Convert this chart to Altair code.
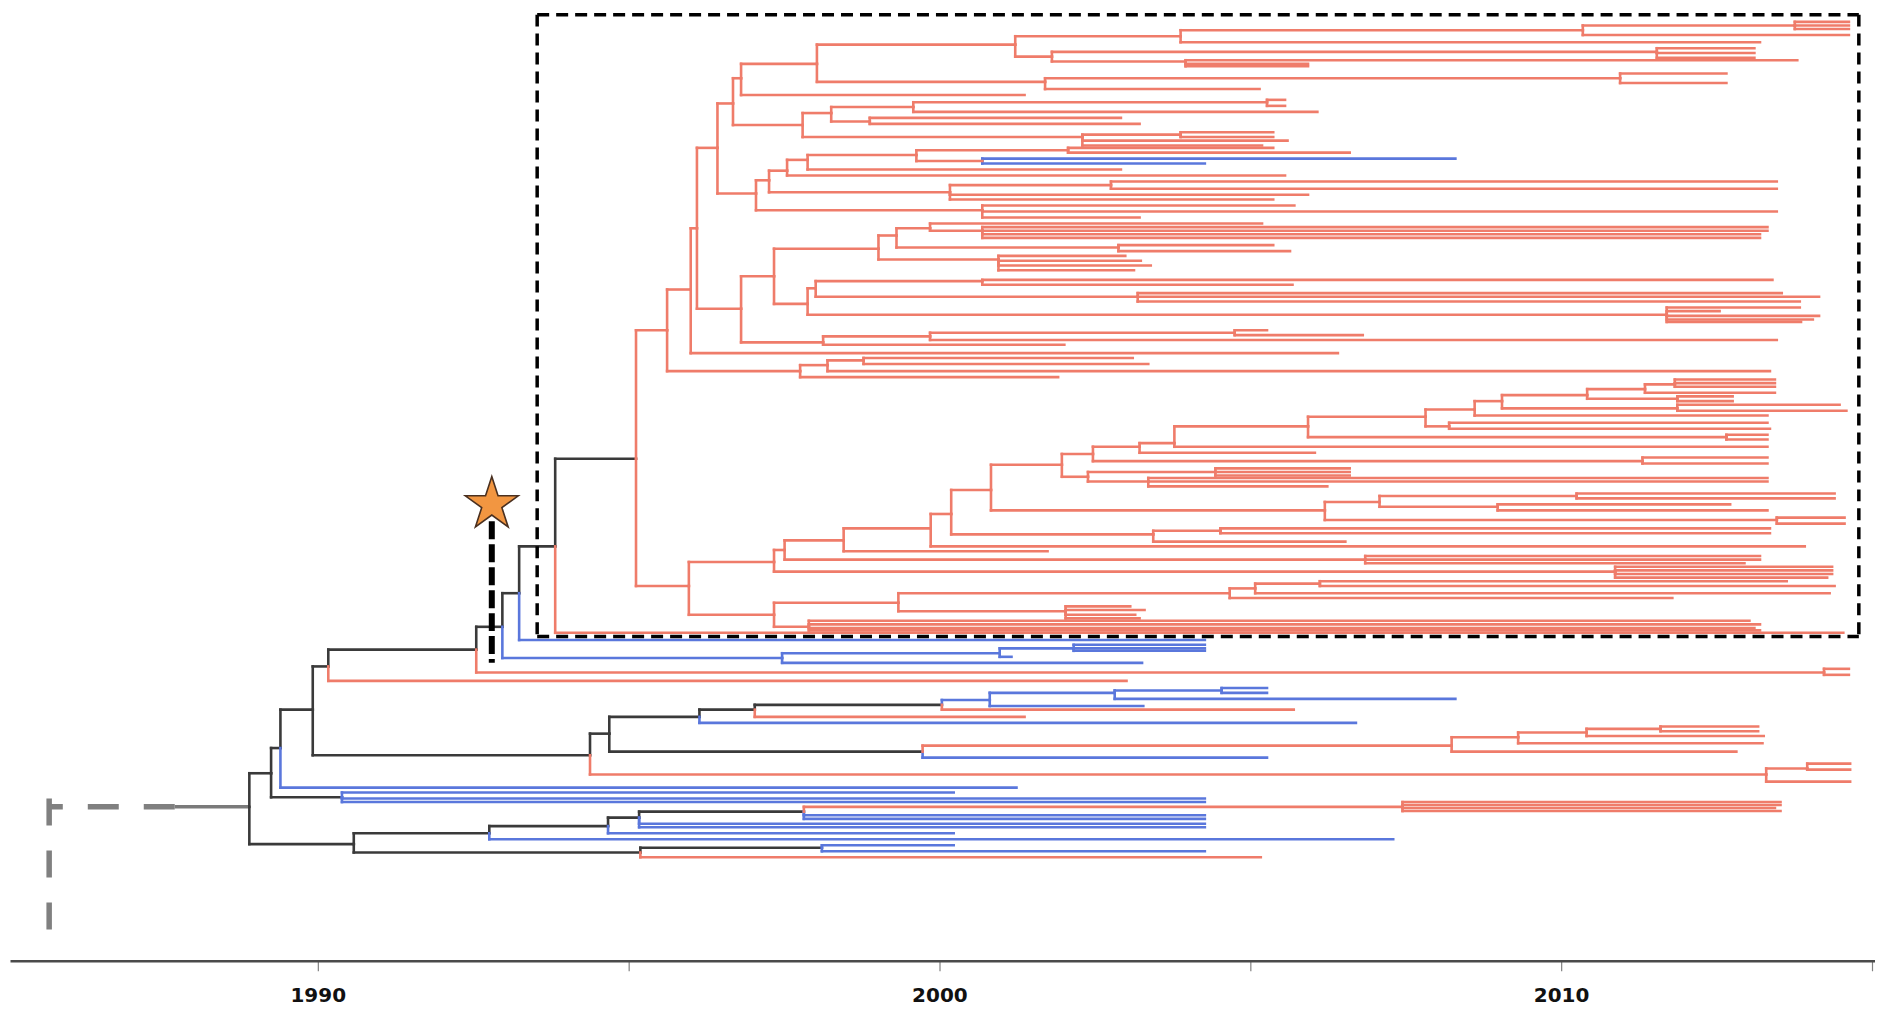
import altair as alt
import pandas as pd

# Each branch: (parent year, tip/node year, position, parent position, state)
# state: r = red, b = blue, k = black (ancestral)
backbone = [
    (1988.90, 1989.25, 644, 672, 'k'), (1988.90, 1990.58, 703, 672, 'k'),
    (1989.25, 1989.40, 623, 644, 'k'), (1989.25, 1990.39, 664, 644, 'k'),
    (1990.39, 2000.23, 660, 664, 'b'), (1990.39, 2004.27, 665, 664, 'b'),
    (1990.39, 2004.27, 668, 664, 'b'),
    (1989.40, 1989.92, 591, 623, 'k'), (1989.40, 2001.24, 656, 623, 'b'),
    (1989.92, 1990.17, 555, 591, 'k'), (1989.92, 1994.38, 629, 591, 'k'),
    (1990.17, 1992.55, 541, 555, 'k'), (1990.17, 2003.01, 567, 555, 'r'),
    (1992.55, 1992.97, 522, 541, 'k'), (1992.55, 2014.23, 560, 541, 'r'),
    (2014.23, 2014.63, 557, 560, 'r'), (2014.23, 2014.63, 562, 560, 'r'),
    (1992.97, 1993.24, 494, 522, 'k'), (1992.97, 1997.47, 548, 522, 'b'),
    (1997.47, 2000.97, 544, 548, 'b'), (1997.47, 2003.26, 552, 548, 'b'),
    (2000.97, 2002.16, 540, 544, 'b'), (2000.97, 2001.16, 547, 544, 'b'),
    (2002.16, 2004.27, 537, 540, 'b'), (2002.16, 2004.27, 540, 540, 'b'),
    (2002.16, 2004.27, 542, 540, 'b'),
    (1993.24, 1993.82, 455, 494, 'k'), (1993.24, 2004.27, 533, 494, 'b'),
    (1993.82, 1995.12, 382, 455, 'k'), (1993.82, 2014.54, 527, 455, 'r'),
    (1994.38, 1994.69, 611, 629, 'k'), (1994.38, 2013.30, 645, 629, 'r'),
    (2013.30, 2013.96, 640, 645, 'r'), (2013.30, 2014.65, 651, 645, 'r'),
    (2013.96, 2014.65, 636, 640, 'r'), (2013.96, 2014.65, 641, 640, 'r'),
    (1994.69, 1996.14, 597, 611, 'k'), (1994.69, 1999.73, 626, 611, 'k'),
    (1999.73, 2008.24, 621, 626, 'r'), (1999.73, 2005.27, 631, 626, 'b'),
    (2008.24, 2009.31, 614, 621, 'r'), (2008.24, 2012.82, 626, 621, 'r'),
    (2009.31, 2010.41, 610, 614, 'r'), (2009.31, 2013.24, 619, 614, 'r'),
    (2010.41, 2011.60, 607, 610, 'r'), (2010.41, 2013.26, 613, 610, 'r'),
    (2011.60, 2013.17, 605, 607, 'r'), (2011.60, 2013.17, 609, 607, 'r'),
    (1996.14, 1997.03, 591, 597, 'k'), (1996.14, 2006.70, 602, 597, 'b'),
    (1997.03, 2000.04, 587, 591, 'k'), (1997.03, 2001.37, 597, 591, 'r'),
    (2000.04, 2000.81, 583, 587, 'b'), (2000.04, 2005.70, 591, 587, 'r'),
    (2000.81, 2002.82, 577, 583, 'b'), (2000.81, 2003.28, 588, 583, 'b'),
    (2002.82, 2004.54, 575, 577, 'b'), (2002.82, 2008.30, 582, 577, 'b'),
    (2004.54, 2005.27, 573, 575, 'b'), (2004.54, 2005.27, 577, 575, 'b'),
]

lower_group = [
    (1990.58, 1992.76, 694, 703, 'k'), (1990.58, 1995.19, 710, 703, 'k'),
    (1992.76, 1994.67, 688, 694, 'k'), (1992.76, 2007.30, 699, 694, 'b'),
    (1994.67, 1995.17, 681, 688, 'k'), (1994.67, 2000.23, 694, 688, 'b'),
    (1995.17, 1997.82, 676, 681, 'k'), (1995.17, 2004.27, 686, 681, 'b'),
    (1995.17, 2004.27, 689, 681, 'b'),
    (1997.82, 2007.45, 672, 676, 'r'), (1997.82, 2004.27, 679, 676, 'b'),
    (1997.82, 2004.27, 682, 676, 'b'),
    (2007.45, 2013.53, 668, 672, 'r'), (2007.45, 2013.53, 670.5, 672, 'r'),
    (2007.45, 2013.44, 673, 672, 'r'), (2007.45, 2013.53, 675.5, 672, 'r'),
    (1995.19, 1998.11, 706, 710, 'k'), (1995.19, 2005.17, 714, 710, 'r'),
    (1998.11, 2000.23, 704, 706, 'b'), (1998.11, 2004.27, 709, 706, 'b'),
]

clade_root = [
    (1995.12, 1995.62, 275, 382, 'r'), (1995.12, 1995.97, 488, 382, 'r'),
]

clade_upper = [
    (1995.62, 1996.00, 241, 275, 'r'), (1995.62, 1997.76, 309, 275, 'r'),
    (1997.76, 1998.20, 304, 309, 'r'), (1997.76, 2001.91, 314, 309, 'r'),
    (1998.20, 1998.78, 300, 304, 'r'), (1998.20, 2013.36, 309, 304, 'r'),
    (1998.78, 2003.11, 298, 300, 'r'), (1998.78, 2003.36, 303, 300, 'r'),
    (1996.00, 1996.10, 190, 241, 'r'), (1996.00, 2006.41, 294, 241, 'r'),
    (1996.10, 1996.43, 123, 190, 'r'), (1996.10, 1996.81, 257, 190, 'r'),
    (1996.81, 1997.34, 230, 257, 'r'), (1996.81, 1998.13, 285, 257, 'r'),
    (1998.13, 1999.85, 280, 285, 'r'), (1998.13, 2002.01, 287, 285, 'r'),
    (1999.85, 2004.75, 277, 280, 'r'), (1999.85, 2013.47, 283, 280, 'r'),
    (2004.75, 2005.27, 275, 277, 'r'), (2004.75, 2006.81, 279, 277, 'r'),
    (1997.34, 1999.02, 207, 230, 'r'), (1997.34, 1997.88, 253, 230, 'r'),
    (1997.88, 1998.01, 240, 253, 'r'), (1997.88, 2011.70, 262, 253, 'r'),
    (1998.01, 2000.69, 234, 240, 'r'), (1998.01, 2003.19, 247, 240, 'r'),
    (2000.69, 2013.40, 233, 234, 'r'), (2000.69, 2005.68, 237, 234, 'r'),
    (2003.19, 2013.55, 244, 247, 'r'), (2003.19, 2014.15, 247, 247, 'r'),
    (2003.19, 2013.84, 251, 247, 'r'),
    (2011.70, 2013.84, 256, 262, 'r'), (2011.70, 2012.55, 259, 262, 'r'),
    (2011.70, 2014.15, 263, 262, 'r'), (2011.70, 2014.05, 266, 262, 'r'),
    (2011.70, 2013.86, 268, 262, 'r'),
    (1999.02, 1999.31, 196, 207, 'r'), (1999.02, 2000.95, 216, 207, 'r'),
    (1999.31, 1999.85, 190, 196, 'r'), (1999.31, 2002.88, 206, 196, 'r'),
    (1999.85, 2000.69, 192, 190, 'r'), (1999.85, 2005.19, 186, 190, 'r'),
    (2000.69, 2013.32, 189, 192, 'r'), (2000.69, 2013.32, 192, 192, 'r'),
    (2000.69, 2013.20, 195, 192, 'r'), (2000.69, 2013.20, 198, 192, 'r'),
    (2002.88, 2005.37, 204, 206, 'r'), (2002.88, 2005.64, 209, 206, 'r'),
    (2000.95, 2002.99, 213, 216, 'r'), (2000.95, 2003.24, 217, 216, 'r'),
    (2000.95, 2003.40, 221, 216, 'r'), (2000.95, 2003.13, 225, 216, 'r'),
    (1996.43, 1996.68, 86, 123, 'r'), (1996.43, 1997.05, 161, 123, 'r'),
    (1996.68, 1996.81, 65, 86, 'r'), (1996.68, 1997.80, 104, 86, 'r'),
    (1996.81, 1998.03, 53, 65, 'r'), (1996.81, 2001.37, 79, 65, 'r'),
    (1998.03, 2001.22, 37, 53, 'r'), (1998.03, 2001.70, 68, 53, 'r'),
    (2001.22, 2003.88, 30, 37, 'r'), (2001.22, 2001.81, 47, 37, 'r'),
    (2003.88, 2010.35, 25, 30, 'r'), (2003.88, 2013.20, 35, 30, 'r'),
    (2010.35, 2013.76, 21, 25, 'r'), (2010.35, 2014.63, 29, 25, 'r'),
    (2013.76, 2014.63, 18, 21, 'r'), (2013.76, 2014.63, 21, 21, 'r'),
    (2013.76, 2014.63, 24, 21, 'r'),
    (2001.81, 2011.54, 43, 47, 'r'), (2001.81, 2003.96, 51, 47, 'r'),
    (2011.54, 2013.11, 40, 43, 'r'), (2011.54, 2013.11, 44, 43, 'r'),
    (2011.54, 2013.11, 48, 43, 'r'),
    (2003.96, 2013.80, 50, 51, 'r'), (2003.96, 2005.93, 53, 51, 'r'),
    (2003.96, 2005.93, 55, 51, 'r'),
    (2001.70, 2010.95, 65, 68, 'r'), (2001.70, 2005.15, 74, 68, 'r'),
    (2010.95, 2012.66, 61, 65, 'r'), (2010.95, 2012.66, 69, 65, 'r'),
    (1997.80, 1998.26, 94, 104, 'r'), (1997.80, 2002.30, 114, 104, 'r'),
    (1998.26, 1999.58, 89, 94, 'r'), (1998.26, 1998.88, 101, 94, 'r'),
    (1999.58, 2005.27, 85, 89, 'r'), (1999.58, 2006.08, 93, 89, 'r'),
    (2005.27, 2005.56, 83, 85, 'r'), (2005.27, 2005.56, 88, 85, 'r'),
    (1998.88, 2002.92, 98, 101, 'r'), (1998.88, 2003.22, 103, 101, 'r'),
    (2002.30, 2003.88, 112, 114, 'r'), (2002.30, 2005.60, 117, 114, 'r'),
    (2002.30, 2005.19, 121, 114, 'r'),
    (2003.88, 2005.37, 110, 112, 'r'), (2003.88, 2005.37, 114, 112, 'r'),
    (1997.05, 1997.26, 150, 161, 'r'), (1997.05, 2000.69, 175, 161, 'r'),
    (2000.69, 2005.71, 171, 175, 'r'), (2000.69, 2013.47, 176, 175, 'r'),
    (2000.69, 2003.22, 181, 175, 'r'),
    (1997.26, 1997.55, 142, 150, 'r'), (1997.26, 2000.17, 160, 150, 'r'),
    (2000.17, 2002.76, 154, 160, 'r'), (2000.17, 2005.93, 162, 160, 'r'),
    (2000.17, 2005.37, 166, 160, 'r'),
    (2002.76, 2013.47, 151, 154, 'r'), (2002.76, 2013.47, 157, 154, 'r'),
    (1997.55, 1997.88, 133, 142, 'r'), (1997.55, 2005.56, 146, 142, 'r'),
    (1997.88, 1999.63, 129, 133, 'r'), (1997.88, 2002.92, 141, 133, 'r'),
    (1999.63, 2002.07, 125, 129, 'r'), (1999.63, 2000.69, 134, 129, 'r'),
    (2000.69, 2008.30, 132, 134, 'b'), (2000.69, 2004.27, 136, 134, 'b'),
    (2002.07, 2006.60, 127, 125, 'r'), (2002.07, 2005.37, 123, 125, 'r'),
]

clade_lower = [
    (1995.97, 1997.34, 468, 488, 'r'), (1995.97, 1997.34, 512, 488, 'r'),
    (1997.34, 1997.51, 458, 468, 'r'), (1997.34, 2010.87, 476, 468, 'r'),
    (2010.87, 2014.36, 472, 476, 'r'), (2010.87, 2014.36, 475, 476, 'r'),
    (2010.87, 2014.36, 478, 476, 'r'), (2010.87, 2014.28, 481, 476, 'r'),
    (1997.51, 1998.46, 450, 458, 'r'), (1997.51, 2006.85, 466, 458, 'r'),
    (2006.85, 2013.20, 463, 466, 'r'), (2006.85, 2013.20, 466, 466, 'r'),
    (2006.85, 2012.95, 469, 466, 'r'),
    (1998.46, 1999.86, 440, 450, 'r'), (1998.46, 2001.74, 459, 450, 'r'),
    (1999.86, 2000.19, 428, 440, 'r'), (1999.86, 2013.92, 455, 440, 'r'),
    (2000.19, 2000.83, 408, 428, 'r'), (2000.19, 2003.44, 445, 428, 'r'),
    (2003.44, 2004.52, 442, 445, 'r'), (2003.44, 2006.53, 451, 445, 'r'),
    (2004.52, 2013.36, 440, 442, 'r'), (2004.52, 2013.36, 444, 442, 'r'),
    (2000.83, 2001.97, 387, 408, 'r'), (2000.83, 2006.20, 425, 408, 'r'),
    (2006.20, 2007.08, 418, 425, 'r'), (2006.20, 2013.47, 433, 425, 'r'),
    (2007.08, 2010.25, 413, 418, 'r'), (2007.08, 2008.98, 422, 418, 'r'),
    (2010.25, 2014.40, 411, 413, 'r'), (2010.25, 2014.40, 415, 413, 'r'),
    (2008.98, 2012.72, 420, 422, 'r'), (2008.98, 2013.32, 425, 422, 'r'),
    (2013.47, 2014.56, 431, 433, 'r'), (2013.47, 2014.56, 436, 433, 'r'),
    (2001.97, 2002.47, 378, 387, 'r'), (2001.97, 2002.39, 397, 387, 'r'),
    (2002.39, 2004.44, 393, 397, 'r'), (2002.39, 2003.36, 401, 397, 'r'),
    (2004.44, 2006.60, 390, 393, 'r'), (2004.44, 2006.60, 393, 393, 'r'),
    (2004.44, 2006.60, 396, 393, 'r'),
    (2003.36, 2013.32, 398, 401, 'r'), (2003.36, 2013.32, 401, 401, 'r'),
    (2003.36, 2006.24, 405, 401, 'r'),
    (2002.47, 2003.22, 372, 378, 'r'), (2002.47, 2011.31, 384, 378, 'r'),
    (2011.31, 2013.32, 381, 384, 'r'), (2011.31, 2013.32, 386, 384, 'r'),
    (2003.22, 2003.78, 369, 372, 'r'), (2003.22, 2006.04, 377, 372, 'r'),
    (2003.78, 2005.93, 355, 369, 'r'), (2003.78, 2013.32, 372, 369, 'r'),
    (2005.93, 2007.82, 347, 355, 'r'), (2005.93, 2012.66, 364, 355, 'r'),
    (2012.66, 2013.32, 362, 364, 'r'), (2012.66, 2013.32, 366, 364, 'r'),
    (2007.82, 2008.61, 341, 347, 'r'), (2007.82, 2008.20, 355, 347, 'r'),
    (2008.20, 2013.32, 352, 355, 'r'), (2008.20, 2013.36, 357, 355, 'r'),
    (2008.61, 2009.05, 334, 341, 'r'), (2008.61, 2013.32, 346, 341, 'r'),
    (2009.05, 2010.42, 329, 334, 'r'), (2009.05, 2011.87, 340, 334, 'r'),
    (2011.87, 2014.48, 337, 340, 'r'), (2011.87, 2014.59, 342, 340, 'r'),
    (2010.42, 2011.35, 324, 329, 'r'), (2010.42, 2011.87, 332, 329, 'r'),
    (2011.87, 2012.76, 330, 332, 'r'), (2011.87, 2012.76, 334, 332, 'r'),
    (2011.35, 2011.83, 320, 324, 'r'), (2011.35, 2013.44, 327, 324, 'r'),
    (2011.83, 2013.44, 316, 320, 'r'), (2011.83, 2013.44, 319, 320, 'r'),
    (2011.83, 2013.44, 322, 320, 'r'),
    (1997.34, 1999.34, 502, 512, 'r'), (1997.34, 1997.90, 522, 512, 'r'),
    (1999.34, 2004.67, 494, 502, 'r'), (1999.34, 2002.03, 509, 502, 'r'),
    (2004.67, 2005.08, 490, 494, 'r'), (2004.67, 2011.79, 498, 494, 'r'),
    (2005.08, 2006.12, 486, 490, 'r'), (2005.08, 2014.32, 494, 490, 'r'),
    (2006.12, 2013.63, 484, 486, 'r'), (2006.12, 2014.40, 488, 486, 'r'),
    (2002.03, 2003.07, 505, 509, 'r'), (2002.03, 2003.30, 508, 509, 'r'),
    (2002.03, 2003.15, 512, 509, 'r'), (2002.03, 2003.22, 515, 509, 'r'),
    (1997.90, 2013.03, 517, 522, 'r'), (1997.90, 2013.20, 520, 522, 'r'),
    (1997.90, 2013.11, 523, 522, 'r'), (1997.90, 2013.20, 525, 522, 'r'),
]

# root stem (grey, partly dashed) and highlighted clade box
root_years = [1985.68, 1987.70, 1988.90]
root_pos = [665, 672, 775]
box_years = [1993.53, 2014.79]
box_pos = [12, 530]
star_year = 1992.80
star_pos = [420, 434, 552]
tick_years = [1990, 1995, 2000, 2005, 2010, 2015]

# ---------- build tables ----------
rows = []
for x0, x1, y, yp, c in backbone + lower_group + clade_root + clade_upper + clade_lower:
    rows.append({"x": x0, "x2": x1, "y": y, "y2": y, "c": c})
    rows.append({"x": x0, "x2": x0, "y": yp, "y2": y, "c": c})
tree_df = pd.DataFrame(rows)
tree_df["rank"] = tree_df["c"].map({"k": 0, "b": 1, "r": 2})
tree_df = tree_df.sort_values("rank", kind="stable")

box_df = pd.DataFrame([
    {"x": box_years[0], "x2": box_years[1], "y": box_pos[0], "y2": box_pos[0]},
    {"x": box_years[0], "x2": box_years[1], "y": box_pos[1], "y2": box_pos[1]},
    {"x": box_years[0], "x2": box_years[0], "y": box_pos[0], "y2": box_pos[1]},
    {"x": box_years[1], "x2": box_years[1], "y": box_pos[0], "y2": box_pos[1]},
])
root_h = pd.DataFrame([{"x": root_years[1], "x2": root_years[0], "y": root_pos[1], "y2": root_pos[1]}])
root_v = pd.DataFrame([{"x": root_years[0], "x2": root_years[0], "y": root_pos[0], "y2": root_pos[2]}])
root_s = pd.DataFrame([{"x": root_years[1], "x2": root_years[2], "y": root_pos[1], "y2": root_pos[1]}])
star_line = pd.DataFrame([{"x": star_year, "x2": star_year, "y": star_pos[1], "y2": star_pos[2]}])
star_df = pd.DataFrame([{"x": star_year, "y": star_pos[0]}])

x_scale = alt.Scale(domain=[1985.05, 2015.05], nice=False, zero=False)
y_scale = alt.Scale(domain=[6.7, 800.2], reverse=True, nice=False, zero=False)
x_axis = alt.Axis(values=tick_years, format="d",
                  labelExpr="datum.value % 10 === 0 ? datum.label : ''",
                  title=None, grid=False, domainColor="#4a4a4a", domainWidth=2.5,
                  tickColor="#808080", tickSize=10, tickWidth=1.2,
                  labelFont="DejaVu Sans", labelFontWeight="bold", labelFontSize=20,
                  labelColor="#111111", labelPadding=15, labelFlush=False,
                  labelOverlap=False)
X = alt.X("x:Q", scale=x_scale, axis=x_axis)
Y = alt.Y("y:Q", scale=y_scale, axis=None)

tree = alt.Chart(tree_df).mark_rule(strokeWidth=2.6, strokeCap="square").encode(
    x=X, x2="x2:Q", y=Y, y2="y2:Q",
    color=alt.Color("c:N", legend=None,
                    scale=alt.Scale(domain=["r", "b", "k"],
                                    range=["#ef7c6a", "#5a77dc", "#3a3a3a"])),
)

root_dash_h = alt.Chart(root_h).mark_rule(strokeWidth=5.5, color="#808080",
                                          strokeDash=[31, 25]).encode(x=X, x2="x2:Q", y=Y, y2="y2:Q")
root_dash_v = alt.Chart(root_v).mark_rule(strokeWidth=5.5, color="#808080",
                                          strokeDash=[27, 25]).encode(x=X, x2="x2:Q", y=Y, y2="y2:Q")
root_solid = alt.Chart(root_s).mark_rule(strokeWidth=3.5, color="#7a7a7a").encode(
    x=X, x2="x2:Q", y=Y, y2="y2:Q")

box = alt.Chart(box_df).mark_rule(strokeWidth=3.5, color="#000000",
                                  strokeDash=[12, 7]).encode(x=X, x2="x2:Q", y=Y, y2="y2:Q")

star_dash = alt.Chart(star_line).mark_rule(strokeWidth=6, color="#000000",
                                           strokeDash=[18, 5]).encode(x=X, x2="x2:Q", y=Y, y2="y2:Q")

STAR = ("M0,-1L0.2245,-0.309L0.9511,-0.309L0.3633,0.118L0.5878,0.809L0,0.382"
        "L-0.5878,0.809L-0.3633,0.118L-0.9511,-0.309L-0.2245,-0.309Z")
star = alt.Chart(star_df).mark_point(shape=STAR, filled=True, size=3100, opacity=1,
                                     fill="#f29641", stroke="#4a3020",
                                     strokeWidth=1.6).encode(x=X, y=Y)

chart = alt.layer(root_dash_h, root_dash_v, root_solid, tree, box, star_dash, star).properties(
    width=1866, height=953,
    padding={"left": 2, "top": 0, "right": 0, "bottom": 46},
    autosize=alt.AutoSizeParams(type="none"),
    background="white",
).configure_view(strokeWidth=0)

chart.save("out.html", embed_options={"renderer": "svg", "actions": False})
